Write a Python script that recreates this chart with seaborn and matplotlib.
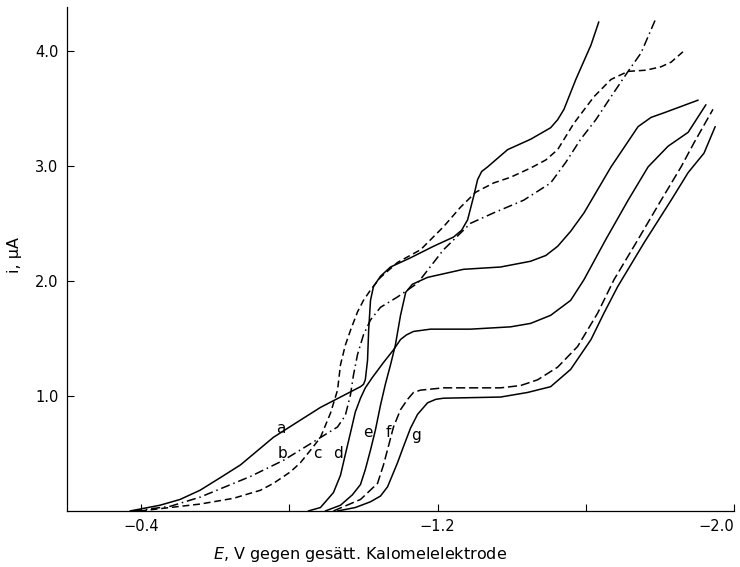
#!/usr/bin/env python3
"""
Polarogramme a-g: Stromstaerke gegen Potential (gesaett. Kalomelelektrode).
"""
import numpy as np
import pandas as pd
import matplotlib
matplotlib.use("Agg")
import matplotlib.pyplot as plt
import seaborn as sns

# Kurve a (durchgezogen)
E_a = [-0.370, -0.451, -0.505, -0.559, -0.614, -0.668, -0.757, -0.830, -0.884, -0.938,
       -0.992, -1.000, -1.005, -1.011, -1.014, -1.019, -1.027, -1.046, -1.073, -1.127,
       -1.189, -1.243, -1.265, -1.281, -1.297, -1.308, -1.319, -1.335, -1.389, -1.451,
       -1.505, -1.524, -1.541, -1.573, -1.614, -1.635]
i_a = [0.00, 0.05, 0.10, 0.18, 0.29, 0.40, 0.64, 0.79, 0.90, 0.99,
       1.08, 1.10, 1.14, 1.31, 1.57, 1.83, 1.95, 2.04, 2.12, 2.20,
       2.30, 2.38, 2.44, 2.53, 2.73, 2.88, 2.95, 2.99, 3.14, 3.23,
       3.33, 3.40, 3.49, 3.75, 4.05, 4.25]

# Kurve b (strichpunktiert)
E_b = [-0.378, -0.478, -0.559, -0.695, -0.784, -0.865, -0.930, -0.951, -0.965, -0.973,
       -0.984, -1.000, -1.019, -1.046, -1.092, -1.146, -1.216, -1.289, -1.351, -1.432,
       -1.505, -1.546, -1.586, -1.627, -1.668, -1.714, -1.749, -1.789]
i_b = [0.00, 0.04, 0.12, 0.30, 0.44, 0.60, 0.73, 0.83, 1.01, 1.18,
       1.36, 1.53, 1.66, 1.77, 1.86, 1.98, 2.27, 2.50, 2.59, 2.70,
       2.85, 3.03, 3.23, 3.40, 3.60, 3.82, 3.98, 4.28]

# Kurve c (gestrichelt)
E_c = [-0.397, -0.559, -0.649, -0.722, -0.757, -0.803, -0.830, -0.865, -0.884, -0.911,
       -0.930, -0.938, -0.951, -0.965, -0.984, -1.000, -1.019, -1.046, -1.092, -1.154,
       -1.216, -1.262, -1.303, -1.351, -1.397, -1.451, -1.492, -1.524, -1.568, -1.622,
       -1.668, -1.714, -1.762, -1.803, -1.830, -1.862]
i_c = [0.00, 0.06, 0.11, 0.18, 0.24, 0.34, 0.42, 0.56, 0.64, 0.85,
       1.05, 1.27, 1.44, 1.57, 1.73, 1.83, 1.92, 2.03, 2.16, 2.27,
       2.47, 2.64, 2.77, 2.85, 2.90, 2.98, 3.05, 3.14, 3.37, 3.60,
       3.75, 3.82, 3.83, 3.86, 3.90, 3.99]

# Kurve d (durchgezogen)
E_d = [-0.851, -0.884, -0.919, -0.938, -0.951, -0.965, -0.978, -0.992, -1.005, -1.024,
       -1.054, -1.081, -1.100, -1.116, -1.135, -1.181, -1.289, -1.397, -1.451, -1.505,
       -1.559, -1.595, -1.654, -1.714, -1.768, -1.822, -1.876, -1.924]
i_d = [0.00, 0.03, 0.16, 0.31, 0.49, 0.68, 0.86, 0.98, 1.07, 1.16,
       1.29, 1.40, 1.49, 1.53, 1.56, 1.58, 1.58, 1.60, 1.63, 1.70,
       1.83, 2.01, 2.36, 2.70, 2.99, 3.17, 3.29, 3.53]

# Kurve e (durchgezogen)
E_e = [-0.897, -0.938, -0.970, -0.992, -1.005, -1.019, -1.032, -1.046, -1.059, -1.073,
       -1.086, -1.100, -1.114, -1.132, -1.173, -1.270, -1.370, -1.451, -1.492, -1.524,
       -1.559, -1.595, -1.668, -1.741, -1.776, -1.811, -1.903]
i_e = [0.00, 0.05, 0.14, 0.23, 0.36, 0.53, 0.70, 0.92, 1.10, 1.27,
       1.44, 1.70, 1.90, 1.97, 2.03, 2.10, 2.12, 2.17, 2.22, 2.30,
       2.43, 2.59, 2.99, 3.34, 3.42, 3.46, 3.57]

# Kurve f (gestrichelt)
E_f = [-0.919, -0.992, -1.038, -1.054, -1.068, -1.081, -1.100, -1.119, -1.135, -1.154,
       -1.216, -1.370, -1.424, -1.470, -1.524, -1.578, -1.632, -1.676, -1.741, -1.803,
       -1.857, -1.892, -1.943]
i_f = [0.00, 0.10, 0.24, 0.40, 0.57, 0.73, 0.88, 0.97, 1.03, 1.05,
       1.07, 1.07, 1.09, 1.14, 1.25, 1.43, 1.72, 2.01, 2.36, 2.70,
       2.99, 3.20, 3.49]

# Kurve g (durchgezogen)
E_g = [-0.930, -0.978, -1.019, -1.046, -1.065, -1.092, -1.108, -1.127, -1.146, -1.173,
       -1.195, -1.216, -1.370, -1.443, -1.505, -1.559, -1.614, -1.649, -1.686, -1.757,
       -1.830, -1.876, -1.919, -1.949]
i_g = [0.00, 0.03, 0.08, 0.13, 0.21, 0.42, 0.56, 0.72, 0.84, 0.94,
       0.97, 0.98, 0.99, 1.03, 1.08, 1.23, 1.49, 1.72, 1.95, 2.33,
       2.70, 2.94, 3.11, 3.34]

curve_names = ["a", "b", "c", "d", "e", "f", "g"]
x_ticks = [-0.4, -0.8, -1.2, -1.6, -2.0]
x_tick_labels = ["\u22120.4", "", "\u22121.2", "", "\u22122.0"]
y_ticks = [1.0, 2.0, 3.0, 4.0]
y_tick_labels = ["1.0", "2.0", "3.0", "4.0"]

curves = {
    "a": (E_a, i_a), "b": (E_b, i_b), "c": (E_c, i_c), "d": (E_d, i_d),
    "e": (E_e, i_e), "f": (E_f, i_f), "g": (E_g, i_g),
}

# line styles per curve
styles = {
    "a": dict(ls="-"),
    "b": dict(dashes=(6, 2.5, 1, 2.5)),
    "c": dict(dashes=(4.5, 2.5)),
    "d": dict(ls="-"),
    "e": dict(ls="-"),
    "f": dict(dashes=(6, 2.5)),
    "g": dict(ls="-"),
}

# curve letter positions (E, i)
label_pos = {
    "a": (-0.776, 0.72), "b": (-0.781, 0.50), "c": (-0.876, 0.50),
    "d": (-0.932, 0.50), "e": (-1.011, 0.68), "f": (-1.068, 0.68),
    "g": (-1.141, 0.66),
}

sns.set_style("ticks")
plt.rcParams["font.family"] = ["DejaVu Sans"]
plt.rcParams["mathtext.fontset"] = "dejavusans"

fig = plt.figure(figsize=(7.4, 5.67), dpi=100)
ax = fig.add_axes([0.0905, 0.0988, 0.9015, 0.889])

for name in curve_names:
    E, cur = curves[name]
    df = pd.DataFrame({"E": E, "i": cur})
    sns.lineplot(data=df, x="E", y="i", ax=ax, color="black", lw=1.1,
                 sort=False, estimator=None, solid_joinstyle="round", **styles[name])
    lx, ly = label_pos[name]
    ax.text(lx, ly, name, fontsize=11, ha="center", va="center", color="black")

ax.set_xlim(-0.2, -2.0)
ax.set_ylim(0, 4.38)
ax.set_xticks(x_ticks)
ax.set_xticklabels(x_tick_labels, fontsize=10.5)
ax.get_xticklabels()[-1].set_horizontalalignment("right")
ax.set_yticks(y_ticks)
ax.set_yticklabels(y_tick_labels, fontsize=10.5)
ax.tick_params(direction="in", length=5, width=0.8, pad=6, colors="black")

sns.despine(ax=ax)
for sp in ["left", "bottom"]:
    ax.spines[sp].set_linewidth(0.9)
    ax.spines[sp].set_color("black")

ax.set_xlabel("$E$, V gegen ges\u00e4tt. Kalomelelektrode", fontsize=11.5, color="black")
ax.xaxis.set_label_coords(0.44, -0.068)
ax.set_ylabel("i, \u03bcA", fontsize=11.5, color="black")
ax.yaxis.set_label_coords(-0.068, 0.508)

fig.savefig("out.png", dpi=100)
